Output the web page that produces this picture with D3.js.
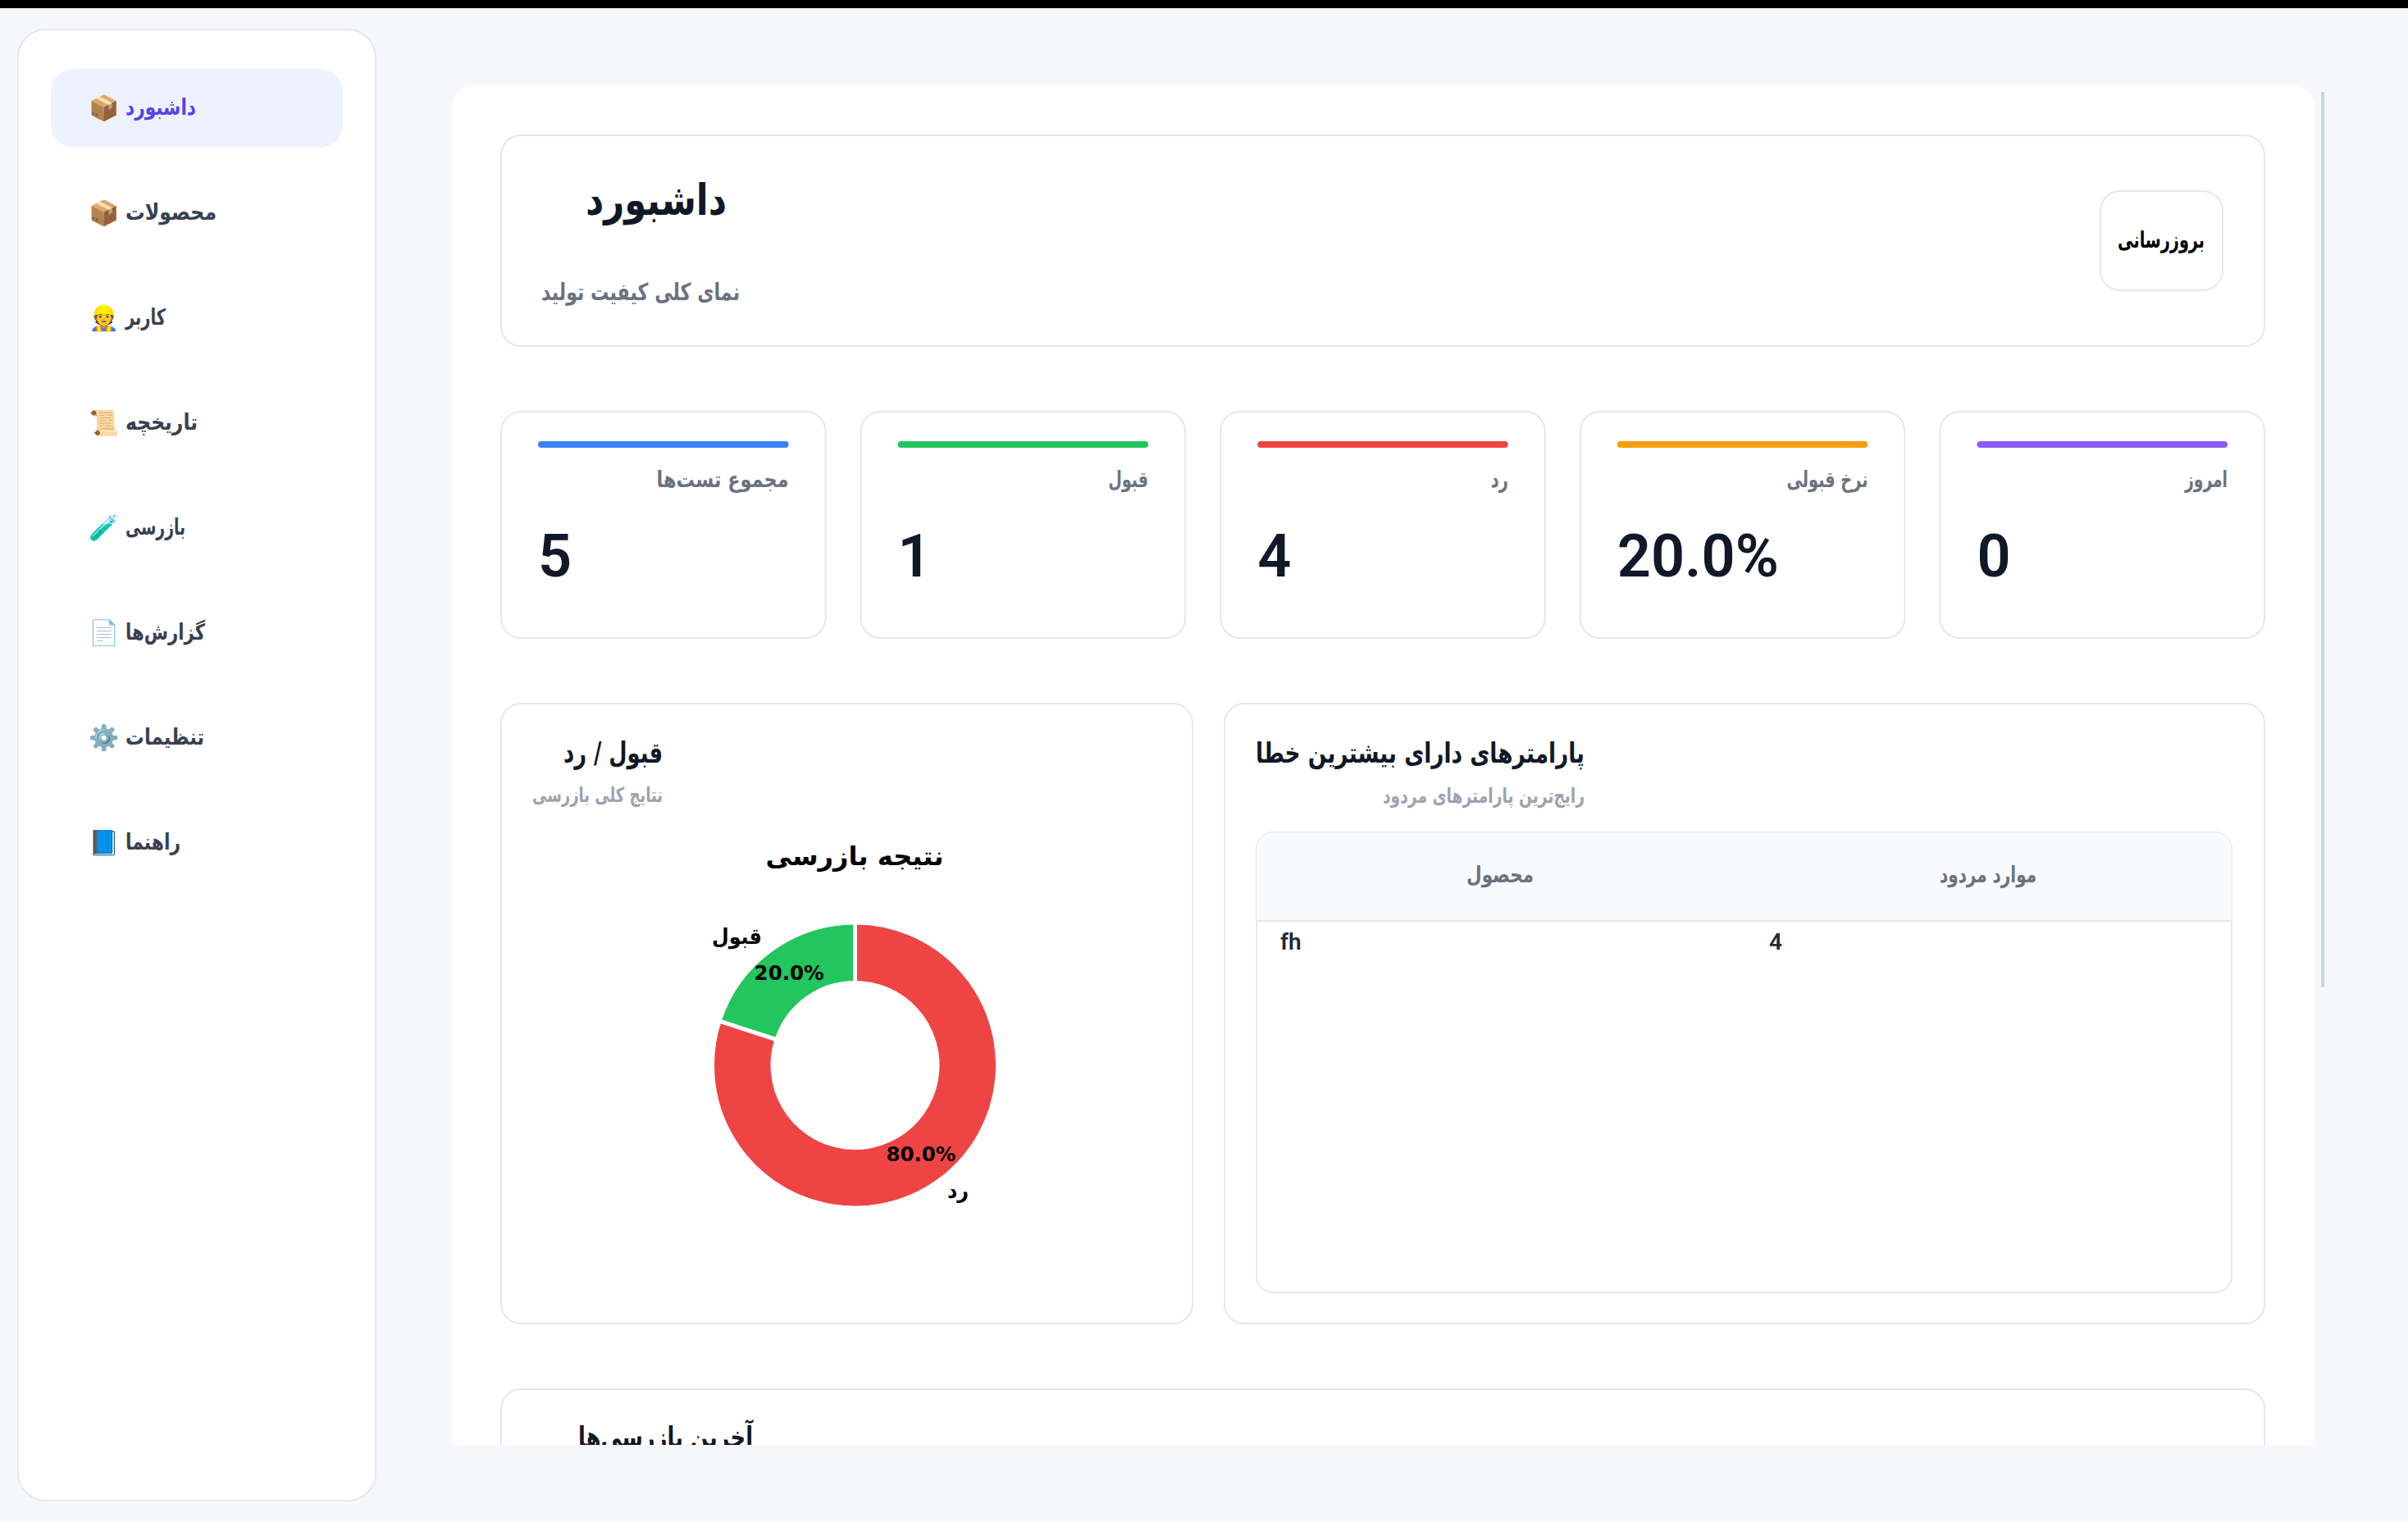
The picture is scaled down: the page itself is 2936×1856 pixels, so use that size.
<!DOCTYPE html>
<html lang="fa">
<head>
<meta charset="utf-8">
<title>داشبورد</title>
<script src="https://cdn.jsdelivr.net/npm/d3@7"></script>
<style>
  html, body { margin: 0; padding: 0; background: #f5f7fb; overflow: hidden; }
  svg { display: block; }
  text { font-family: "DejaVu Sans", Roboto, sans-serif; }
  .num { font-family: Roboto, sans-serif; }
</style>
</head>
<body>
<div id="chart"></div>
<script>
// nav items
const navLabels = ["داشبورد", "محصولات", "کاربر", "تاریخچه", "بازرسی", "گزارش‌ها", "تنظیمات", "راهنما"];
const navIcons = ["📦", "📦", "👷", "📜", "🧪", "📄", "⚙️", "📘"];

// stat cards
const statLabels = ["مجموع تست‌ها", "قبول", "رد", "نرخ قبولی", "امروز"];
const statValues = ["5", "1", "4", "20.0%", "0"];
const statColors = ["#3b82f6", "#22c55e", "#ef4444", "#f59e0b", "#8b5cf6"];

// donut
const pieLabels = ["قبول", "رد"];
const pieValues = [1, 4];
const pieColors = ["#22c55e", "#ef4444"];

// table
const tableHeaders = ["محصول", "موارد مردود"];
const tableProducts = ["fh"];
const tableCounts = [4];

// widths of the persian strings, the fallback font runs wider than the original
const navWidths = [86, 111, 49, 88, 73, 97, 96, 67];
const statWidths = [161, 49, 21, 99, 52];
const pieLabelWidths = [61, 26];

const width = 2936, height = 1856;

const svg = d3.select("#chart").append("svg")
    .attr("width", width)
    .attr("height", height)
    .attr("viewBox", `0 0 ${width} ${height}`);

svg.append("rect").attr("width", width).attr("height", height).attr("fill", "#f5f7fb");
svg.append("rect").attr("width", width).attr("height", 10).attr("fill", "#000");

function card(g, x, y, w, h, r, stroke) {
    return g.append("rect")
        .attr("x", x + 1).attr("y", y + 1)
        .attr("width", w - 2).attr("height", h - 2)
        .attr("rx", r)
        .attr("fill", "#fff")
        .attr("stroke", stroke || "#e5e7eb")
        .attr("stroke-width", 2);
}

// rtl text: "start" is the right edge, "end" the left edge
function faText(g, str, x, y, size, weight, fill, anchor, fitWidth) {
    const t = g.append("text")
        .attr("x", x).attr("y", y - 2)
        .attr("direction", "rtl")
        .attr("text-anchor", anchor || "start")
        .attr("dominant-baseline", "central")
        .attr("font-size", size)
        .attr("font-weight", weight)
        .attr("fill", fill)
        .text(str);
    if (fitWidth) t.attr("textLength", fitWidth).attr("lengthAdjust", "spacingAndGlyphs");
    return t;
}

// sidebar
const side = svg.append("g");
card(side, 21, 35, 438, 1796, 34);
side.append("rect").attr("x", 62).attr("y", 84).attr("width", 356).attr("height", 96).attr("rx", 28).attr("fill", "#eef2ff");

const navY = d3.scalePoint().domain(navLabels).range([132, 1028]);
navLabels.forEach((label, i) => {
    faText(side, label, 153, navY(label), 27, 700, i === 0 ? "#4f46e5" : "#374151", "end", navWidths[i]);
    side.append("text")
        .attr("x", 126).attr("y", navY(label) - 1)
        .attr("text-anchor", "middle")
        .attr("dominant-baseline", "central")
        .attr("font-size", 30)
        .text(navIcons[i]);
});

// main panel
svg.append("clipPath").attr("id", "panel-clip")
    .append("rect").attr("x", 551).attr("y", 104).attr("width", 2271).attr("height", 1658);
const main = svg.append("g").attr("clip-path", "url(#panel-clip)");
main.append("rect").attr("x", 551).attr("y", 104).attr("width", 2271).attr("height", 1750).attr("rx", 26).attr("fill", "#fff");

svg.append("rect").attr("x", 2830).attr("y", 112).attr("width", 4).attr("height", 1092).attr("fill", "#cbd5e1");

// header
card(main, 610, 164, 2152, 259, 24);
faText(main, "داشبورد", 714, 246, 52, 700, "#111827", "end", 172);
faText(main, "نمای کلی کیفیت تولید", 660, 358, 29, 700, "#6b7280", "end", 242);
card(main, 2560, 232, 151, 123, 24, "#e2e8f0");
faText(main, "بروزرسانی", 2635, 294, 28, 700, "#000", "middle", 106);

// stat cards
const statX = d3.scaleBand().domain(statLabels).range([610, 2762]).paddingInner(0.0936);
statLabels.forEach((label, i) => {
    const x = statX(label), w = statX.bandwidth();
    card(main, x, 501, w, 278, 24);
    main.append("rect").attr("x", x + 46).attr("y", 538).attr("width", w - 92).attr("height", 8).attr("rx", 4).attr("fill", statColors[i]);
    faText(main, label, x + w - 46, 586, 27, 700, "#6b7280", "start", statWidths[i]);
    main.append("text").attr("class", "num")
        .attr("x", x + 46).attr("y", 703)
        .attr("font-size", 72).attr("font-weight", 600)
        .attr("fill", "#111827")
        .text(statValues[i]);
});

// donut card
card(main, 610, 857, 845, 758, 24);
faText(main, "قبول / رد", 808, 920, 35, 700, "#111827", "start", 121);
faText(main, "نتایج کلی بازرسی", 808, 971, 25, 700, "#9ca3af", "start", 159);
faText(main, "نتیجه بازرسی", 1042, 1046, 32, 700, "#000", "middle", 217);

const labelRadius = 171;
const donut = main.append("g").attr("transform", "translate(1042.5,1299)");
const pie = d3.pie().sort(null).startAngle(2 * Math.PI).endAngle(0);
const arcs = pie(pieValues);
const arc = d3.arc().innerRadius(100.5).outerRadius(174);
const pctArc = d3.arc().innerRadius(labelRadius * 0.8).outerRadius(labelRadius * 0.8);
const labelArc = d3.arc().innerRadius(labelRadius * 1.1).outerRadius(labelRadius * 1.1);
const total = d3.sum(pieValues);

donut.selectAll("path").data(arcs).enter().append("path")
    .attr("d", arc)
    .attr("fill", (d, i) => pieColors[i])
    .attr("stroke", "#fff")
    .attr("stroke-width", 5);

arcs.forEach((d, i) => {
    const [lx, ly] = labelArc.centroid(d);
    const [px, py] = pctArc.centroid(d);
    // label hangs outwards from the ring
    faText(donut, pieLabels[i], lx - (lx < 0 ? 3 : -2), ly - (lx < 0 ? 3 : -3), 26, 700, "#000", lx < 0 ? "start" : "end", pieLabelWidths[i]);
    donut.append("text")
        .attr("x", px).attr("y", py - 2)
        .attr("text-anchor", "middle")
        .attr("dominant-baseline", "central")
        .attr("font-size", 24.5).attr("font-weight", 700)
        .attr("fill", "#000")
        .text(d3.format(".1%")(d.value / total));
});

// table card
card(main, 1492, 857, 1270, 758, 24);
faText(main, "پارامترهای دارای بیشترین خطا", 1932, 920, 34, 700, "#111827", "start", 401);
faText(main, "رایج‌ترین پارامترهای مردود", 1932, 972, 25, 700, "#9ca3af", "start", 246);

card(main, 1531, 1014, 1191, 563, 20);
main.append("path")
    .attr("d", "M1532,1124V1035a20,20 0 0 1 20,-20H2701a20,20 0 0 1 20,20V1124Z")
    .attr("fill", "#f9fafb");
main.append("line").attr("x1", 1532).attr("x2", 2721).attr("y1", 1123).attr("y2", 1123).attr("stroke", "#e5e7eb").attr("stroke-width", 2);

faText(main, tableHeaders[0], 1829, 1068, 27, 700, "#6b7280", "middle", 82);
faText(main, tableHeaders[1], 2424, 1068, 27, 700, "#6b7280", "middle", 118);
main.append("text").attr("class", "num").attr("x", 1561).attr("y", 1158).attr("font-size", 28).attr("font-weight", 600).attr("fill", "#1f2937").text(tableProducts[0]);
main.append("text").attr("class", "num").attr("x", 2157).attr("y", 1158).attr("font-size", 28).attr("font-weight", 600).attr("fill", "#1f2937").text(tableCounts[0]);

// last inspections, cut off by the panel
card(main, 610, 1693, 2152, 300, 24);
faText(main, "آخرین بازرسی‌ها", 918, 1754, 36, 700, "#111827", "start", 213);
</script>
</body>
</html>
